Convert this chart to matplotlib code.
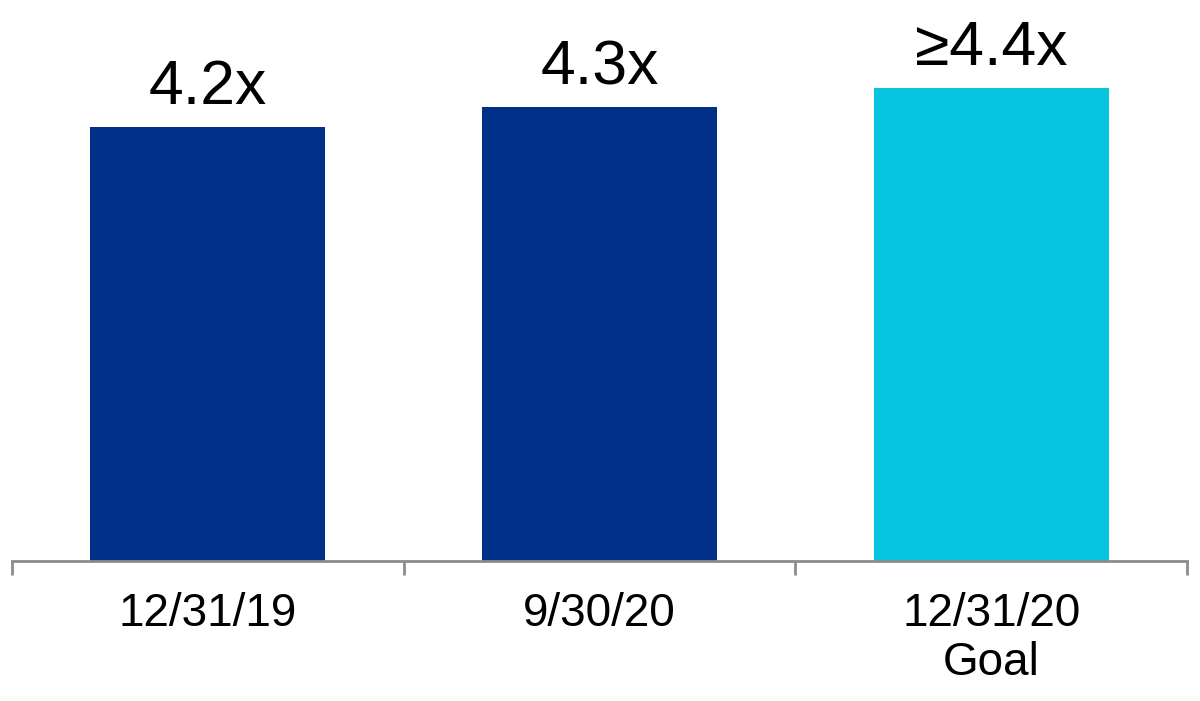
import matplotlib
matplotlib.use("Agg")
import matplotlib.pyplot as plt

categories = ["12/31/19", "9/30/20", "12/31/20\nGoal"]
values = [4.2, 4.3, 4.4]
value_labels = ["4.2x", "4.3x", "\u22654.4x"]
colors = ["#003087", "#003087", "#07C4DF"]

plt.rcParams['font.family'] = ['Liberation Sans', 'DejaVu Sans']

fig = plt.figure(figsize=(12, 7.01), dpi=100)
ax = fig.add_axes([12/1200, (701-561)/701, 1175/1200, 561/701])

x = list(range(len(categories)))
bars = ax.bar(x, values, width=0.6, color=colors, bottom=0)
ax.set_xlim(-0.5, 2.5)
ax.set_ylim(2.0, 2.0 + 561/197.2)

for xi, v, lab in zip(x, values, value_labels):
    ax.annotate(lab, (xi, v), xytext=(0, 7), textcoords='offset points',
                ha='center', va='bottom', fontsize=45, color='black')

for s in ['top', 'left', 'right']:
    ax.spines[s].set_visible(False)
ax.spines['bottom'].set_color('#8C8C8C')
ax.spines['bottom'].set_linewidth(2.0)
ax.set_yticks([])
ax.set_xticks(x)
ax.set_xticklabels(categories, fontsize=33, linespacing=1.17)
ax.tick_params(axis='x', which='major', length=0, pad=22)
ax.set_xticks([-0.5, 0.5, 1.5, 2.5], minor=True)
ax.tick_params(axis='x', which='minor', length=10, width=2.0, color='#8C8C8C', direction='out')

fig.savefig("out.png", dpi=100)
